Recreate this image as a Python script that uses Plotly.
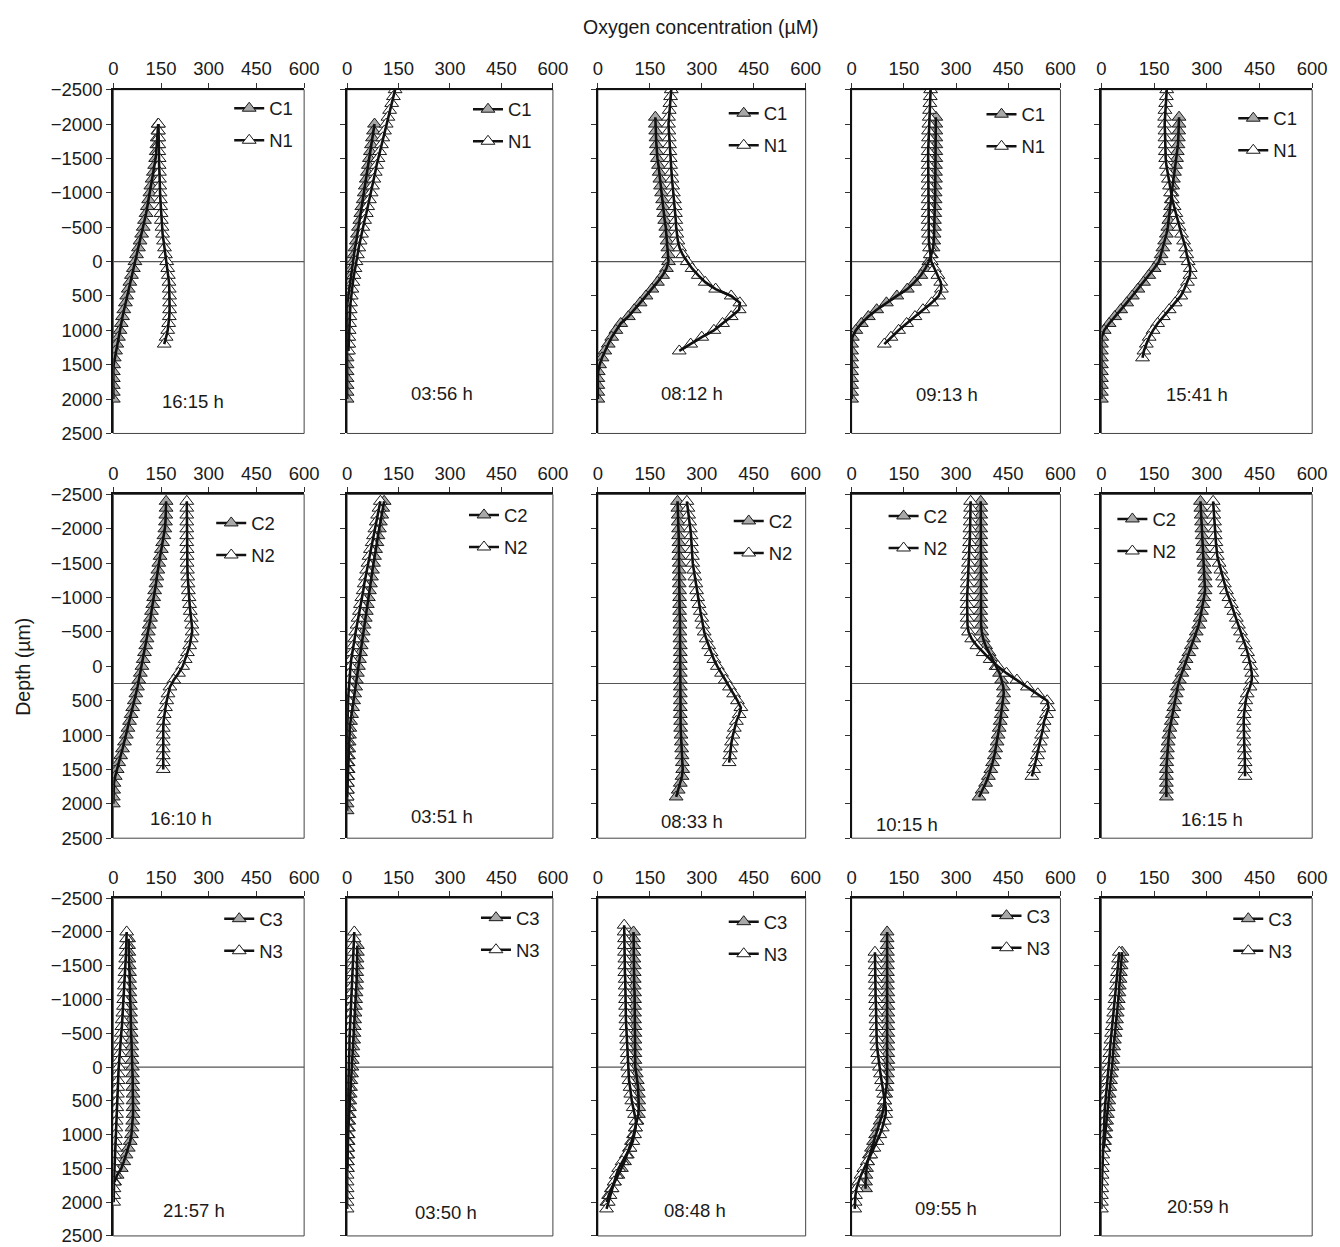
import plotly.graph_objects as go

# ---------------- data (oxygen, µM) ----------------
DEPTH_STEP = 100  # µm between profile points
TIMES = ["16:15 h", "03:56 h", "08:12 h", "09:13 h", "15:41 h",
         "16:10 h", "03:51 h", "08:33 h", "10:15 h", "16:15 h",
         "21:57 h", "03:50 h", "08:48 h", "09:55 h", "20:59 h"]
C_NAMES = ["C1", "C2", "C3"]
N_NAMES = ["N1", "N2", "N3"]
SURFACE = [0, 250, 0]  # depth of the horizontal reference line per row
X_TICKS = [0, 150, 300, 450, 600]
Y_TICKS = [-2500, -2000, -1500, -1000, -500, 0, 500, 1000, 1500, 2000, 2500]
Y_TICKTEXT = ["\u22122500", "\u22122000", "\u22121500", "\u22121000", "\u2212500",
              "0", "500", "1000", "1500", "2000", "2500"]

# row 1
p01_c_top = -2000
p01_c = [141, 140, 138, 137, 135, 133, 130, 126, 122, 118, 115, 111, 107, 103, 98, 94, 89, 84, 79, 73,
         68, 63, 57, 52, 47, 42, 38, 33, 29, 25, 21, 16, 11, 7, 3, 1, 0, 0, 0, 0, 0]
p01_n_top = -2000
p01_n = [142, 142, 143, 143, 143, 144, 144, 145, 145, 146, 147, 148, 149, 150, 151, 153, 155, 158, 161, 164,
         168, 171, 173, 175, 176, 177, 177, 177, 176, 174, 171, 166, 160]

p02_c_top = -2000
p02_c = [80, 77, 74, 71, 68, 65, 62, 59, 56, 53, 50, 47, 43, 40, 37, 33, 30, 27, 23, 20,
         17, 14, 11, 8, 5, 3, 1, 0, 0, 0, 0, 0, 0, 0, 0, 0, 0, 0, 0, 0, 0]
p02_n_top = -2500
p02_n = [140, 135, 130, 124, 119, 114, 109, 104, 100, 95, 90, 86, 82, 78, 74, 70, 65, 60, 56, 51,
         46, 42, 38, 34, 30, 26, 23, 20, 17, 14, 12, 10, 9, 8, 7, 6, 5, 5, 4]

p03_c_top = -2100
p03_c = [166, 166, 167, 168, 169, 170, 172, 175, 177, 179, 181, 184, 187, 189, 191, 193, 196, 198, 200, 202,
         204, 204, 198, 187, 172, 156, 139, 122, 105, 88, 66, 52, 40, 30, 20, 12, 5, 1, 0, 0, 0, 0]
p03_n_top = -2500
p03_n = [212, 210, 208, 206, 204, 204, 205, 206, 207, 208, 209, 210, 212, 214, 216, 218, 221, 223, 224, 225,
         226, 228, 231, 236, 245, 258, 272, 290, 310, 340, 385, 410, 408, 385, 360, 335, 300, 268, 235]

p04_c_top = -2100
p04_c = [242, 242, 242, 242, 242, 242, 242, 241, 241, 241, 240, 240, 240, 239, 239, 238, 238, 237, 236, 234,
         229, 222, 212, 199, 181, 160, 130, 100, 72, 48, 28, 12, 2, 0, 0, 0, 0, 0, 0, 0, 0, 0]
p04_n_top = -2500
p04_n = [227, 226, 225, 224, 223, 222, 221, 221, 220, 220, 220, 220, 220, 220, 220, 220, 220, 220, 220, 220,
         220, 221, 222, 224, 226, 229, 238, 248, 256, 258, 250, 230, 205, 182, 158, 135, 113, 94]

p05_c_top = -2100
p05_c = [221, 221, 220, 219, 218, 216, 214, 211, 208, 205, 203, 201, 199, 197, 195, 192, 189, 185, 180, 175,
         170, 164, 150, 135, 120, 104, 88, 72, 55, 38, 22, 8, 1, 0, 0, 0, 0, 0, 0, 0, 0, 0]
p05_n_top = -2500
p05_n = [186, 185, 183, 181, 180, 180, 181, 181, 182, 182, 183, 185, 188, 191, 194, 197, 202, 207, 212, 217,
         221, 228, 234, 240, 243, 247, 253, 252, 245, 236, 226, 210, 193, 176, 160, 147, 136, 128, 121, 117]

# row 2
p06_c_top = -2400
p06_c = [166, 166, 165, 164, 162, 159, 155, 151, 147, 143, 140, 137, 134, 130, 127, 124, 120, 117, 113, 110,
         106, 102, 98, 94, 90, 85, 80, 76, 71, 66, 61, 56, 51, 46, 41, 35, 29, 23, 17, 12, 6, 2, 1, 0, 0]
p06_n_top = -2400
p06_n = [231, 231, 231, 231, 231, 231, 231, 232, 232, 232, 233, 234, 235, 236, 238, 240, 242, 245, 247, 248,
         245, 240, 233, 226, 218, 205, 190, 178, 172, 168, 164, 160, 158, 157, 157, 157, 157, 157, 157, 157]

p07_c_top = -2400
p07_c = [108, 104, 101, 97, 94, 90, 87, 83, 80, 77, 74, 71, 68, 65, 62, 59, 56, 53, 50, 47,
         44, 41, 39, 36, 33, 30, 27, 25, 22, 19, 16, 13, 10, 8, 7, 6, 5, 4, 3, 3,
         2, 1, 1, 0, 0, 0]
p07_n_top = -2400
p07_n = [97, 93, 89, 85, 81, 77, 73, 68, 64, 61, 57, 54, 50, 47, 43, 39, 36, 32, 29, 25,
         22, 18, 15, 12, 10, 8, 6, 5, 4, 3, 2, 1, 1, 0, 0, 0, 0, 0, 0, 0,
         0, 0, 0, 0]

p08_c_top = -2400
p08_c = [230, 231, 232, 232, 233, 233, 234, 234, 234, 235, 235, 235, 235, 236, 236, 236, 236, 237, 237, 237,
         237, 238, 238, 238, 238, 238, 238, 238, 238, 238, 238, 238, 239, 239, 240, 241, 242, 243, 244, 245,
         243, 238, 232, 226]
p08_n_top = -2400
p08_n = [257, 260, 262, 265, 267, 269, 270, 271, 273, 274, 277, 280, 283, 285, 288, 292, 296, 300, 303, 307,
         313, 320, 327, 335, 345, 357, 368, 380, 392, 403, 413, 408, 400, 394, 390, 386, 383, 381, 379]

p09_c_top = -2400
p09_c = [371, 371, 371, 371, 371, 371, 371, 371, 371, 371, 371, 371, 371, 371, 371, 371, 371, 371,
         372, 374, 378, 385, 395, 405, 415, 425, 431, 436, 437, 435, 432, 430, 427, 424, 421, 418, 414,
         410, 405, 400, 393, 385, 375, 366]
p09_n_top = -2400
p09_n = [342, 342, 341, 341, 340, 340, 339, 338, 337, 336, 335, 333, 332, 332, 332, 332, 332, 332, 333, 336,
         345, 360, 378, 398, 420, 445, 475, 505, 535, 562, 566, 560, 553, 550, 546, 542, 538, 534, 528, 523, 518]

p10_c_top = -2400
p10_c = [282, 283, 284, 285, 286, 287, 289, 290, 291, 292, 294, 295, 296, 295, 292, 289, 285, 281, 277, 270,
         263, 256, 249, 241, 235, 229, 222, 217, 213, 209, 206, 202, 199, 195, 192, 190, 188, 187, 186, 185,
         185, 185, 185, 185]
p10_n_top = -2400
p10_n = [318, 319, 320, 322, 323, 324, 326, 328, 330, 335, 340, 345, 350, 356, 363, 370, 377, 384, 390, 396,
         403, 410, 416, 421, 425, 428, 428, 423, 415, 411, 408, 406, 405, 405, 405, 406, 407, 408, 409, 409, 409]

# row 3
p11_c_top = -1900
p11_c = [48, 48, 49, 49, 50, 51, 51, 52, 52, 53, 54, 54, 55, 55, 56, 57, 58, 58, 59, 60,
         60, 61, 61, 62, 62, 62, 62, 61, 59, 57, 53, 47, 40, 33, 25, 12, 4]
p11_n_top = -2000
p11_n = [42, 42, 41, 40, 39, 38, 37, 36, 35, 34, 33, 32, 30, 28, 27, 25, 23, 22, 20, 18,
         17, 16, 15, 14, 13, 12, 11, 10, 9, 8, 7, 6, 6, 5, 5, 4, 3, 2, 2, 1, 1]

p12_c_top = -1800
p12_c = [30, 30, 29, 29, 28, 28, 27, 26, 25, 24, 23, 22, 21, 20, 19, 17, 16, 15,
         14, 13, 11, 10, 9, 8, 7, 6, 5, 4, 3, 3, 2, 2, 1, 1]
p12_n_top = -2000
p12_n = [21, 20, 20, 19, 19, 18, 17, 16, 15, 14, 13, 12, 11, 10, 9, 8, 7, 7, 6, 6,
         5, 5, 4, 4, 3, 3, 2, 2, 1, 1, 1, 0, 0, 0, 0, 0, 0, 0, 0, 0, 0, 0]

p13_c_top = -2000
p13_c = [103, 103, 104, 104, 104, 105, 105, 105, 105, 106, 106, 106, 106, 106, 107, 107, 107, 107, 107, 107,
         108, 111, 114, 116, 117, 118, 118, 117, 113, 108, 103, 97, 91, 85, 77, 68, 58, 48, 39, 31, 26]
p13_n_top = -2100
p13_n = [76, 76, 77, 77, 77, 78, 78, 78, 79, 79, 80, 80, 80, 81, 81, 82, 83, 83, 84, 85,
         85, 86, 88, 90, 93, 95, 98, 102, 106, 110, 109, 106, 101, 93, 82, 70, 60, 53, 47, 41, 35, 30, 25]

p14_c_top = -2000
p14_c = [102, 102, 102, 103, 103, 103, 103, 103, 103, 104, 104, 104, 104, 104, 104, 104, 104, 104, 104, 104,
         104, 103, 102, 100, 98, 95, 92, 88, 82, 75, 69, 63, 57, 51, 46, 43, 41, 40, 40]
p14_n_top = -1700
p14_n = [67, 67, 68, 68, 68, 69, 69, 69, 70, 70, 70, 71, 71, 72, 73, 75, 77, 80, 83, 86,
         89, 92, 95, 98, 98, 94, 88, 81, 73, 64, 55, 45, 35, 27, 20, 14, 11, 10, 9]

p15_c_top = -1700
p15_c = [59, 57, 56, 54, 53, 51, 50, 48, 46, 45, 43, 41, 39, 37, 35, 33, 32, 30, 28, 26,
         24, 22, 21, 19, 17, 15, 13, 11, 9, 7]
p15_n_top = -1700
p15_n = [51, 49, 48, 46, 44, 43, 41, 39, 37, 35, 33, 31, 29, 27, 25, 24, 22, 21, 19, 17,
         15, 13, 11, 10, 9, 9, 8, 7, 6, 5, 4, 3, 2, 2, 1, 1, 0, 0, 0]

PANELS = [
    (p01_c_top, p01_c, p01_n_top, p01_n), (p02_c_top, p02_c, p02_n_top, p02_n),
    (p03_c_top, p03_c, p03_n_top, p03_n), (p04_c_top, p04_c, p04_n_top, p04_n),
    (p05_c_top, p05_c, p05_n_top, p05_n), (p06_c_top, p06_c, p06_n_top, p06_n),
    (p07_c_top, p07_c, p07_n_top, p07_n), (p08_c_top, p08_c, p08_n_top, p08_n),
    (p09_c_top, p09_c, p09_n_top, p09_n), (p10_c_top, p10_c, p10_n_top, p10_n),
    (p11_c_top, p11_c, p11_n_top, p11_n), (p12_c_top, p12_c, p12_n_top, p12_n),
    (p13_c_top, p13_c, p13_n_top, p13_n), (p14_c_top, p14_c, p14_n_top, p14_n),
    (p15_c_top, p15_c, p15_n_top, p15_n),
]

# ---------------- layout geometry (target pixels in the final picture) ----------------
BODY_MARGIN = 8                 # default page margin around the plot div
W, H = 1340, 1262               # figure size
# measured page->picture mapping of the capture (picture = a + b * page)
CAP_AX, CAP_BX = 3.7, 0.986
CAP_AY, CAP_BY = 9.4, 0.984

COLS_PX = [(112, 303), (346, 552), (597, 805), (851, 1060), (1101, 1312)]
ROWS_PX = [(88, 432), (493, 837), (897, 1235)]
# legend anchor: (end of legend line, y of first entry) in pixels
LEG_PX = [(265, 107), (504, 108), (760, 112), (1018, 113), (1270, 117),
          (247, 522), (500, 514), (765, 520), (920, 515), (1149, 518),
          (255, 918), (512, 917), (760, 921), (1023, 915), (1265, 918)]
TIME_PX = [(192, 400), (441, 392), (691, 392), (946, 393), (1197, 393),
           (180, 817), (441, 815), (691, 820), (906, 823), (1212, 818),
           (193, 1210), (445, 1212), (694, 1210), (945, 1208), (1198, 1206)]

FONT = "Liberation Sans, Arial, sans-serif"
TXT = "#1a1a1a"
FS = 18.5


def fx(px):
    page = (px - CAP_AX) / CAP_BX
    return (page - BODY_MARGIN) / W


def fy(py):
    page = (py - CAP_AY) / CAP_BY
    return 1 - (page - BODY_MARGIN) / H


def depths(top, n):
    return [top + DEPTH_STEP * i for i in range(n)]


fig = go.Figure()
layout = dict(
    width=W, height=H, margin=dict(l=0, r=0, t=0, b=0),
    paper_bgcolor="white", plot_bgcolor="white",
    font=dict(family=FONT, size=FS, color=TXT),
    showlegend=True,
)
shapes = []
annotations = []

for k, (ctop, cvals, ntop, nvals) in enumerate(PANELS):
    r, c = divmod(k, 5)
    sfx = "" if k == 0 else str(k + 1)
    xref, yref = "x" + sfx, "y" + sfx
    legname = "legend" + sfx
    x0, x1 = COLS_PX[c]
    y0, y1 = ROWS_PX[r]

    layout["xaxis" + sfx] = dict(
        domain=[fx(x0), fx(x1)], range=[0, 600], side="top", anchor=yref,
        tickvals=X_TICKS, ticks="outside", ticklen=5, tickwidth=1, tickcolor="#333",
        showline=True, linecolor="#111", linewidth=2, showgrid=False, zeroline=False,
        tickfont=dict(family=FONT, size=FS, color=TXT), fixedrange=True,
    )
    layout["yaxis" + sfx] = dict(
        domain=[fy(y1), fy(y0)], range=[2500, -2500], anchor=xref,
        tickvals=Y_TICKS, ticktext=Y_TICKTEXT, ticks="outside", ticklen=5, tickwidth=1,
        tickcolor="#333", showticklabels=(c == 0),
        showline=True, linecolor="#111", linewidth=2, showgrid=False, zeroline=False,
        tickfont=dict(family=FONT, size=FS, color=TXT), fixedrange=True,
    )

    cd = depths(ctop, len(cvals))
    nd = depths(ntop, len(nvals))

    fig.add_trace(go.Scatter(
        x=cvals, y=cd, xaxis=xref, yaxis=yref, name=C_NAMES[r], legend=legname,
        legendgroup="c%d" % k, mode="lines+markers",
        line=dict(color="#111", width=2.5),
        marker=dict(symbol="triangle-up", size=12, color="#a8a8a8",
                    line=dict(color="#1a1a1a", width=1)),
    ))
    fig.add_trace(go.Scatter(
        x=nvals, y=nd, xaxis=xref, yaxis=yref, name=N_NAMES[r], legend=legname,
        legendgroup="n%d" % k, mode="lines+markers",
        line=dict(color="#111", width=2.5),
        marker=dict(symbol="triangle-up", size=12, color="white",
                    line=dict(color="#1a1a1a", width=1)),
    ))
    # profile lines drawn over the marker stacks
    for vals, dd in ((cvals, cd), (nvals, nd)):
        fig.add_trace(go.Scatter(
            x=vals, y=dd, xaxis=xref, yaxis=yref, mode="lines", showlegend=False,
            line=dict(color="#111", width=2.6), hoverinfo="skip",
        ))

    lx, ly = LEG_PX[k]
    layout[legname] = dict(
        x=fx(lx - 37), y=fy(ly - 19), xanchor="left", yanchor="top",
        bgcolor="rgba(0,0,0,0)", borderwidth=0, traceorder="grouped",
        tracegroupgap=5, font=dict(family=FONT, size=FS, color=TXT),
    )

    # thin frame
    shapes.append(dict(type="rect", xref=xref + " domain", yref=yref + " domain",
                       x0=0, x1=1, y0=0, y1=1, line=dict(color="#444", width=1),
                       layer="below"))
    # sediment surface line
    shapes.append(dict(type="line", xref=xref + " domain", yref=yref,
                       x0=0, x1=1, y0=SURFACE[r], y1=SURFACE[r],
                       line=dict(color="#555", width=1.2), layer="below"))

    tx, ty = TIME_PX[k]
    annotations.append(dict(text=TIMES[k], x=fx(tx), y=fy(ty), xref="paper", yref="paper",
                            showarrow=False, xanchor="center", yanchor="middle",
                            font=dict(family=FONT, size=FS, color=TXT)))

annotations.append(dict(text="Oxygen concentration (µM)", x=fx(700), y=fy(25),
                        xref="paper", yref="paper", showarrow=False,
                        xanchor="center", yanchor="middle",
                        font=dict(family=FONT, size=19.5, color=TXT)))
annotations.append(dict(text="Depth (µm)", x=fx(22), y=fy(665), xref="paper", yref="paper",
                        showarrow=False, textangle=-90, xanchor="center", yanchor="middle",
                        font=dict(family=FONT, size=19.5, color=TXT)))

layout["shapes"] = shapes
layout["annotations"] = annotations
fig.update_layout(**layout)

fig.write_html("out.html")
